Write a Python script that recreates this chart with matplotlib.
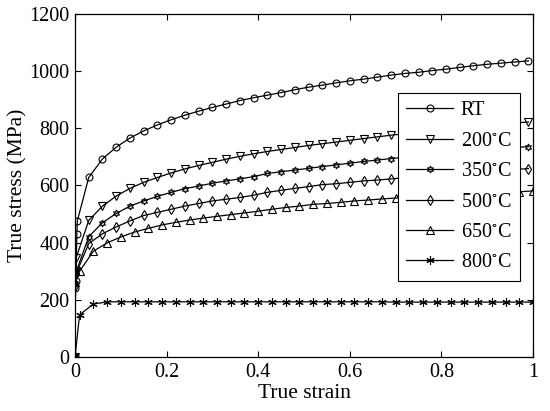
import numpy as np
import matplotlib
matplotlib.use('Agg')
import matplotlib.pyplot as plt

plt.rcParams['font.family'] = ['Liberation Serif', 'DejaVu Serif']
plt.rcParams['mathtext.fontset'] = 'stix'

# strain grids: most curves sampled every 0.03, 650/800 offset by 0.01
grid_a = [round(0.03*k, 2) for k in range(34)]
grid_b = [round(0.01 + 0.03*k, 2) for k in range(34)]

# RT
eps_rt = [0, 0.001, 0.002, 0.004, 0.005] + grid_a[1:]
sig_rt = [0, 240, 266, 432, 476,
          628, 693, 734, 766, 791, 812, 830, 846, 860, 873, 885, 897, 907, 916,
          925, 935, 944, 951, 959, 966, 972, 979, 986, 992, 996, 1002, 1007, 1013,
          1019, 1024, 1028, 1032, 1036]

# 200 C
eps_200 = [0, 0.001, 0.002] + grid_a[1:]
sig_200 = [0, 300, 345,
           478, 528, 563, 590, 611, 628, 644, 658, 670, 681, 692, 702, 711, 719,
           726, 733, 740, 746, 752, 758, 764, 770, 776, 781, 786, 790, 795, 800,
           805, 810, 814, 819, 822]

# 350 C
eps_350 = [0, 0.001, 0.002] + grid_a[1:]
sig_350 = [0, 258, 296,
           421, 470, 502, 528, 546, 562, 576, 589, 598, 608, 616, 623, 631, 642,
           648, 654, 660, 666, 672, 678, 684, 689, 694, 699, 703, 707, 712, 716,
           720, 725, 729, 733, 736]

# 500 C
eps_500 = [0, 0.001, 0.002] + grid_a[1:]
sig_500 = [0, 250, 290,
           397, 431, 455, 476, 495, 506, 517, 528, 537, 546, 552, 558, 566, 576,
           583, 590, 596, 603, 606, 611, 616, 619, 623, 627, 630, 634, 638, 641,
           645, 649, 652, 656, 659]

# 650 C
eps_650 = [0, 0.001] + grid_b
sig_650 = [0, 262,
           300, 370, 399, 420, 437, 450, 462, 471, 479, 486, 492, 498, 504, 510,
           517, 523, 528, 534, 537, 541, 546, 549, 553, 556, 559, 561, 564, 566,
           568, 571, 573, 576, 578, 581]

# 800 C
eps_800 = [0] + grid_b
sig_800 = [0, 148, 185, 193] + [193]*20 + [192]*11

labels = ['RT', '200$^{\\circ}$C', '350$^{\\circ}$C', '500$^{\\circ}$C',
          '650$^{\\circ}$C', '800$^{\\circ}$C']
markers = ['o', 'v', (6, 1, 0), 'd', '^', (6, 2, 0)]
data = [(eps_rt, sig_rt), (eps_200, sig_200), (eps_350, sig_350),
        (eps_500, sig_500), (eps_650, sig_650), (eps_800, sig_800)]

fig = plt.figure(figsize=(5.5, 4.11), dpi=100)
ax = fig.add_axes([0.1364, 0.1314, 0.8327, 0.8346])

for (x, y), m, lab in zip(data, markers, labels):
    ms = 5.5 if m in ('v', '^') else 5
    if m == (6, 2, 0):
        ms = 6
    ax.plot(x, y, color='k', linewidth=0.9, marker=m, markersize=ms,
            markerfacecolor='none', markeredgecolor='k', markeredgewidth=0.8,
            label=lab)

ax.set_xlim(0, 1)
ax.set_ylim(0, 1200)
ax.set_xticks([0, 0.2, 0.4, 0.6, 0.8, 1])
ax.set_xticklabels(['0', '0.2', '0.4', '0.6', '0.8', '1'])
ax.set_yticks(range(0, 1201, 200))
ax.tick_params(direction='in', top=True, right=True, labelsize=14.5, length=4,
               width=0.8, pad=4)
for s in ax.spines.values():
    s.set_linewidth(0.9)

ax.set_xlabel('True strain', fontsize=15.5, labelpad=2)
ax.set_ylabel('True stress (MPa)', fontsize=15.5, labelpad=1)

leg = ax.legend(loc='upper left', bbox_to_anchor=(0.705, 0.770),
                borderaxespad=0, fontsize=14.5, fancybox=False, framealpha=1,
                edgecolor='k', handlelength=2.3, handletextpad=0.4,
                labelspacing=0.56, borderpad=0.42)
leg.get_frame().set_linewidth(0.8)

fig.savefig('out.png', dpi=100)
